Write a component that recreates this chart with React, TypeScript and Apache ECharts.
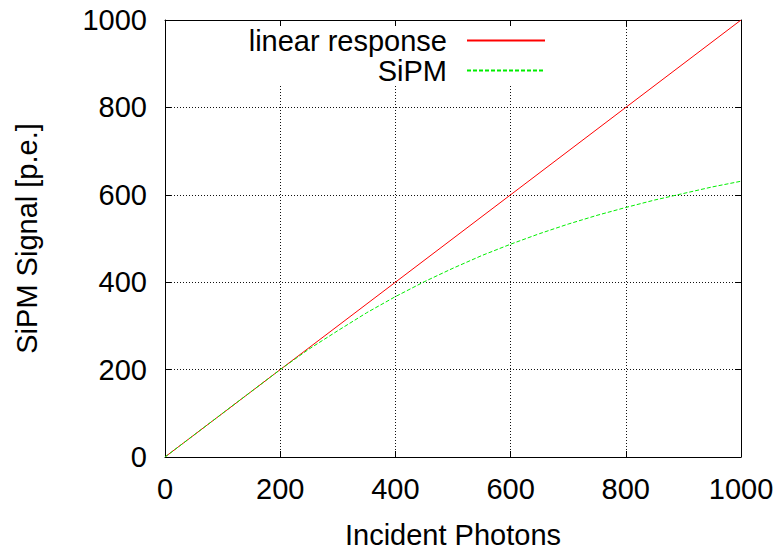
import React, { useEffect, useRef } from "react";
import * as echarts from "echarts";

// Linear response (ideal detector)
const linearX = [0, 1000];
const linearY = [0, 1000];

// SiPM response
const sipmX = [0, 50, 100, 150, 200, 250, 300, 350, 400, 450, 500, 550, 600, 650, 700, 750, 800, 850, 900, 950, 1000];
const sipmY = [0, 50, 100, 150, 200, 247, 289, 330, 367, 401, 432, 461, 487, 511, 533, 553, 571, 588, 603, 618, 631];

const axisTicks = [0, 200, 400, 600, 800, 1000];

const seriesNames = ["linear response", "SiPM"];
const xTitle = "Incident Photons";
const yTitle = "SiPM Signal [p.e.]";

const FONT = '"Liberation Sans", Arial, Helvetica, sans-serif';

export default function App() {
  const ref = useRef<HTMLDivElement>(null);
  useEffect(() => {
    if (!ref.current) return;
    const chart = echarts.init(ref.current, null, { renderer: "svg" });
    const minV = axisTicks[0];
    const maxV = axisTicks[axisTicks.length - 1];
    const step = axisTicks[1] - axisTicks[0];
    const black = "#000";
    const mainAxis = (pos: string, name: string, isX: boolean) => ({
      type: "value",
      position: pos,
      min: minV,
      max: maxV,
      interval: step,
      name,
      nameLocation: "middle",
      nameGap: isX ? 63 : 124,
      nameTextStyle: { fontSize: 29, fontFamily: FONT, color: black },
      axisLine: { show: true, lineStyle: { color: black, width: 1 } },
      axisTick: { show: true, inside: true, length: 6, lineStyle: { color: black, width: 1 } },
      axisLabel: {
        show: true,
        fontSize: 29,
        fontFamily: FONT,
        color: black,
        margin: isX ? 17 : 18,
        formatter: (v: number) => String(v),
      },
      splitLine: { show: true, lineStyle: { color: "#111", type: [1, 2], width: 1 } },
    });
    const mirrorAxis = (pos: string) => ({
      type: "value",
      position: pos,
      min: minV,
      max: maxV,
      interval: step,
      axisLine: { show: true, onZero: false, lineStyle: { color: black, width: 1 } },
      axisTick: { show: true, inside: true, length: 6, lineStyle: { color: black, width: 1 } },
      axisLabel: { show: false },
      splitLine: { show: false },
    });
    const legendCommon = {
      orient: "horizontal",
      align: "right",
      right: 235,
      itemWidth: 78,
      itemHeight: 30,
      padding: 0,
      selectedMode: false,
      itemStyle: { opacity: 0 },
      textStyle: { fontSize: 29, fontFamily: FONT, color: black, padding: [0, 15, 0, 0] },
      z: 5,
    };
    chart.setOption({
      animation: false,
      backgroundColor: "#fff",
      grid: { left: 165, top: 20, width: 576, height: 443, containLabel: false },
      xAxis: [mainAxis("bottom", xTitle, true), mirrorAxis("top")],
      yAxis: [mainAxis("left", yTitle, false), mirrorAxis("right")],
      legend: [
        { ...legendCommon, data: [seriesNames[0]], top: 26 },
        { ...legendCommon, data: [seriesNames[1]], top: 56 },
      ],
      graphic: [
        {
          type: "rect",
          z: 3,
          shape: { x: 240, y: 26, width: 313, height: 59 },
          style: { fill: "#fff" },
          silent: true,
        },
      ],
      series: [
        {
          name: seriesNames[0],
          type: "line",
          xAxisIndex: 0,
          yAxisIndex: 0,
          symbol: "none",
          z: 2,
          lineStyle: { color: "#ff0000", width: 1, type: "solid" },
          itemStyle: { color: "#ff0000" },
          data: linearX.map((x, i) => [x, linearY[i]]),
        },
        {
          name: seriesNames[1],
          type: "line",
          xAxisIndex: 0,
          yAxisIndex: 0,
          symbol: "none",
          smooth: false,
          z: 3,
          lineStyle: { color: "#00ee00", width: 1, type: [4, 2] },
          itemStyle: { color: "#00ee00" },
          data: sipmX.map((x, i) => [x, sipmY[i]]),
        },
      ],
    });
    return () => chart.dispose();
  }, []);
  return (
    <div
      ref={ref}
      style={{ position: "fixed", left: 0, top: 0, width: 781, height: 554, background: "#fff" }}
    />
  );
}
